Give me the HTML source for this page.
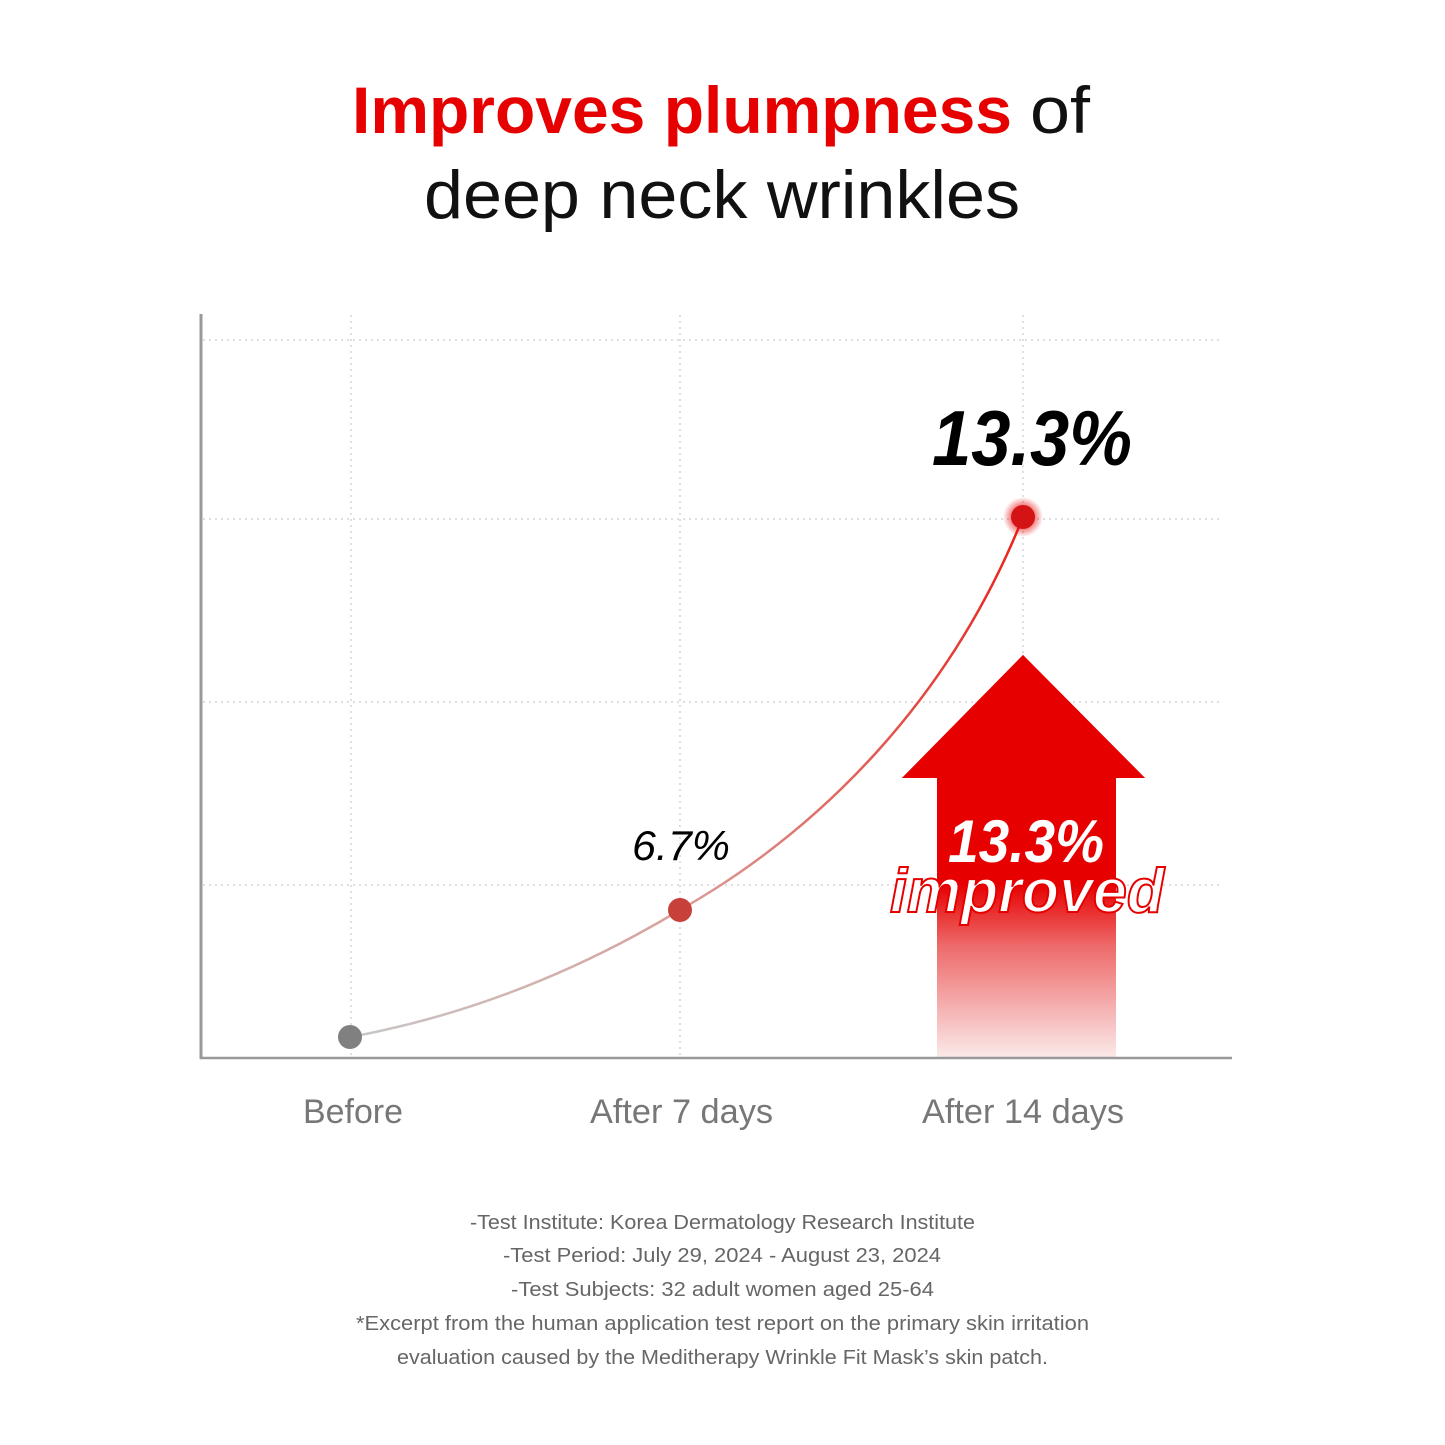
<!DOCTYPE html>
<html><head><meta charset="utf-8"><style>
html,body{margin:0;padding:0;background:#fff;}
svg{display:block}
</style></head><body>
<svg width="1445" height="1445" viewBox="0 0 1445 1445" xmlns="http://www.w3.org/2000/svg" font-family="Liberation Sans, sans-serif">
<defs>
<linearGradient id="curve" x1="350" y1="0" x2="1023" y2="0" gradientUnits="userSpaceOnUse">
<stop offset="0" stop-color="#c8c8c8"/><stop offset="0.5" stop-color="#d9a09a"/><stop offset="1" stop-color="#e8231c"/>
</linearGradient>
<linearGradient id="shaft" x1="0" y1="778" x2="0" y2="1058" gradientUnits="userSpaceOnUse">
<stop offset="0" stop-color="#e60000"/><stop offset="0.38" stop-color="#e60000"/><stop offset="0.6" stop-color="#ee6a6a"/><stop offset="1" stop-color="#fbeaea"/>
</linearGradient>
<radialGradient id="glow"><stop offset="0.5" stop-color="#e60000" stop-opacity="0.6"/><stop offset="1" stop-color="#e60000" stop-opacity="0"/></radialGradient>
</defs>
<text x="352" y="133" font-size="66" font-weight="bold" fill="#e60000" textLength="660" lengthAdjust="spacingAndGlyphs">Improves plumpness</text>
<text x="1030" y="133" font-size="66" fill="#111" textLength="60" lengthAdjust="spacingAndGlyphs">of</text>
<text x="424" y="218" font-size="68" fill="#111" textLength="596" lengthAdjust="spacingAndGlyphs">deep neck wrinkles</text>

<g stroke="#d4d4da" stroke-width="1.5" stroke-dasharray="2,4">
<line x1="203" y1="340" x2="1222" y2="340"/>
<line x1="203" y1="519" x2="1222" y2="519"/>
<line x1="203" y1="702" x2="1222" y2="702"/>
<line x1="203" y1="885" x2="1222" y2="885"/>
<line x1="351" y1="315" x2="351" y2="1057"/>
<line x1="680" y1="315" x2="680" y2="1057"/>
<line x1="1023" y1="315" x2="1023" y2="1057"/>
</g>

<path d="M902 778 L1023 655 L1145 778 L1116 778 L1116 1058 L937 1058 L937 778 Z" fill="url(#shaft)"/>
<path d="M902 778 L1023 655 L1145 778 Z" fill="#e60000"/>

<line x1="201" y1="314" x2="201" y2="1059" stroke="#999" stroke-width="3"/>
<line x1="200" y1="1058" x2="1232" y2="1058" stroke="#999" stroke-width="2.5"/>

<path d="M350 1037 C 470 1015, 580 970, 680 910 C 820 830, 950 700, 1023 517" fill="none" stroke="url(#curve)" stroke-width="2.5"/>
<circle cx="350" cy="1037" r="12" fill="#808080"/>
<circle cx="680" cy="910" r="12" fill="#c8403a"/>
<circle cx="1023" cy="517" r="20" fill="url(#glow)"/>
<circle cx="1023" cy="517" r="12" fill="#d41414"/>

<text x="932" y="465" font-size="78" font-weight="bold" font-style="italic" fill="#000" textLength="200" lengthAdjust="spacingAndGlyphs">13.3%</text>
<text x="632" y="860" font-size="42" font-style="italic" fill="#000" textLength="98" lengthAdjust="spacingAndGlyphs">6.7%</text>

<text x="948" y="862" font-size="60" font-weight="bold" font-style="italic" fill="#fff" textLength="156" lengthAdjust="spacingAndGlyphs">13.3%</text>
<text x="890" y="912" font-size="62" font-weight="bold" font-style="italic" fill="#fff" stroke="#e60000" stroke-width="2" textLength="274" lengthAdjust="spacingAndGlyphs">improved</text>

<g font-size="34" fill="#777">
<text x="303" y="1123" textLength="100" lengthAdjust="spacingAndGlyphs">Before</text>
<text x="590" y="1123" textLength="183" lengthAdjust="spacingAndGlyphs">After 7 days</text>
<text x="922" y="1123" textLength="202" lengthAdjust="spacingAndGlyphs">After 14 days</text>
</g>

<g font-size="20.5" fill="#666">
<text x="470" y="1229" textLength="505" lengthAdjust="spacingAndGlyphs">-Test Institute: Korea Dermatology Research Institute</text>
<text x="503" y="1262" textLength="438" lengthAdjust="spacingAndGlyphs">-Test Period: July 29, 2024 - August 23, 2024</text>
<text x="511" y="1296" textLength="423" lengthAdjust="spacingAndGlyphs">-Test Subjects: 32 adult women aged 25-64</text>
<text x="356" y="1330" textLength="733" lengthAdjust="spacingAndGlyphs">*Excerpt from the human application test report on the primary skin irritation</text>
<text x="397" y="1364" textLength="651" lengthAdjust="spacingAndGlyphs">evaluation caused by the Meditherapy Wrinkle Fit Mask’s skin patch.</text>
</g>
</svg>
</body></html>
